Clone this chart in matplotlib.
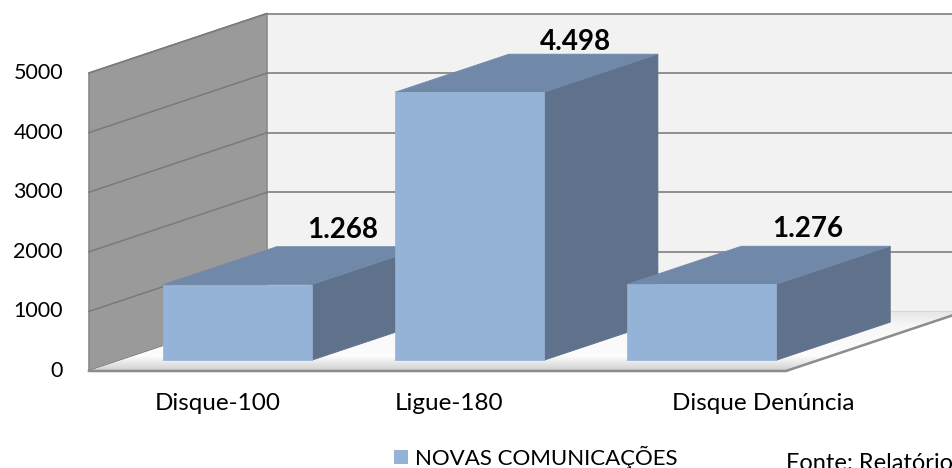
import numpy as np
import matplotlib
matplotlib.use("Agg")
import matplotlib.pyplot as plt
from matplotlib.patches import Polygon

plt.rcParams['font.family'] = ['Lato', 'DejaVu Sans']

# data
categories = ['Disque-100', 'Ligue-180', 'Disque Denúncia']
values = [1268, 4498, 1276]
value_labels = ['1.268', '4.498', '1.276']
yticks = [0, 1000, 2000, 3000, 4000, 5000]
legend_label = 'NOVAS COMUNICAÇÕES'
source_text = 'Fonte: Relatório'

# colours
c_front = '#95B3D7'
c_top = '#7189A9'
c_side = '#5F718B'
c_sidewall = '#9A9A9A'
c_backwall = '#F2F2F2'
c_grid = '#888888'

# layout (pixel based, figure 953x468)
W, H = 953, 468
x0_px, slot_px = 89, 232.33      # left front corner, width of a category slot
y0_px, vpx = 371, 298 / 5000     # zero line (from top), px per unit
DX = 178 / slot_px               # full depth shift in category units
DY = 59.5 / vpx                  # full depth shift in value units
bar_w = 149 / slot_px
d0, d1 = 0.18, 0.82              # bar depth range
vmax = 5000


def P(x, v, d):
    return (x + d * DX, v + d * DY)


def px(xp, yp):
    # pixel position (from top-left) -> data coords
    return ((xp - x0_px) / slot_px, -(yp - y0_px) / vpx)


fig = plt.figure(figsize=(W / 100, H / 100), dpi=100)
ax = fig.add_axes([0, 0, 1, 1])
ax.axis('off')

n = len(categories)

# back wall
back = Polygon([P(0, 0, 1), P(n, 0, 1), P(n, vmax, 1), P(0, vmax, 1)],
               closed=True, fc=c_backwall, ec='none', zorder=1)
ax.add_patch(back)
# side wall
side = Polygon([P(0, 0, 0), P(0, 0, 1), P(0, vmax, 1), P(0, vmax, 0)],
               closed=True, fc=c_sidewall, ec='#8A8A8A', lw=1.2, zorder=2)
ax.add_patch(side)

# gridlines
for t in yticks:
    xs, ys = zip(P(0, t, 1), P(n, t, 1))
    ax.plot(xs, ys, color=c_grid, lw=1.3, zorder=1.5)
    xs, ys = zip(P(0, t, 0), P(0, t, 1))
    ax.plot(xs, ys, color='#7A7A7A', lw=1.1, zorder=2.5)

# floor: white with soft grey toward the front edge and the back wall
floor_pts = [P(0, 0, 0), P(n, 0, 0), P(n, 0, 1), P(0, 0, 1)]
floor = Polygon(floor_pts, closed=True, fc='white', ec='none', zorder=3)
ax.add_patch(floor)
dd = np.linspace(0, 1, 256)
shade = np.interp(dd, [0, 0.04, 0.25, 0.75, 1.0], [0.78, 0.84, 0.99, 0.97, 0.90])[:, None]
im = ax.imshow(np.dstack([shade, shade, shade]), extent=(0, n + DX, 0, DY),
               origin='lower', aspect='auto', zorder=3.1, interpolation='bilinear')
im.set_clip_path(floor)
fx, fy = zip(P(0, 0, 0), P(n, 0, 0), P(n, 0, 1))
ax.plot(fx, fy, color='#8C8C8C', lw=1.8, zorder=3.2)

ax.set_xlim(-x0_px / slot_px, (W - x0_px) / slot_px)
ax.set_ylim(-(H - y0_px) / vpx, y0_px / vpx)

# bars
for i, v in enumerate(values):
    xc = i + 0.5
    xl, xr = xc - bar_w / 2, xc + bar_w / 2
    front = [P(xl, 0, d0), P(xr, 0, d0), P(xr, v, d0), P(xl, v, d0)]
    right = [P(xr, 0, d0), P(xr, 0, d1), P(xr, v, d1), P(xr, v, d0)]
    top = [P(xl, v, d0), P(xr, v, d0), P(xr, v, d1), P(xl, v, d1)]
    ax.add_patch(Polygon(right, closed=True, fc=c_side, ec=c_side, lw=0.5, zorder=4 + i))
    ax.add_patch(Polygon(top, closed=True, fc=c_top, ec=c_top, lw=0.5, zorder=4 + i))
    ax.add_patch(Polygon(front, closed=True, fc=c_front, ec=c_front, lw=0.5, zorder=4 + i))
    # label above the back edge of the top face, kept inside the wall height
    lx, ly = P(xc - 8 / slot_px, v, d1)
    ly = min(ly + 17 / vpx, vmax + DY - 29 / vpx)
    ax.text(lx, ly, value_labels[i], ha='center', va='center',
            fontsize=20, fontweight='bold', color='black', zorder=10)

# y tick labels
for t in yticks:
    ax.text(-26 / slot_px, t, str(t), ha='right', va='center', fontsize=15.5,
            color='black', zorder=10)

# category labels
cat_x = [0.555, 1.55, 2.90]
for cx, lab in zip(cat_x, categories):
    ax.text(cx, -32 / vpx, lab, ha='center', va='center', fontsize=17.5,
            color='black', zorder=10)

# legend
(sx0, sy0), (sx1, sy1) = px(394, 450), px(408, 464)
ax.add_patch(Polygon([(sx0, sy0), (sx1, sy0), (sx1, sy1), (sx0, sy1)],
                     closed=True, fc=c_front, ec='none', zorder=10))
tx, ty = px(415, 457)
ax.text(tx, ty, legend_label, ha='left', va='center', fontsize=16,
        color='black', zorder=10)

# source note (cut off at the edge, as in the original)
tx, ty = px(786, 453)
ax.text(tx, ty, source_text, ha='left', va='top', fontsize=17,
        color='black', zorder=10)

fig.savefig('out.png', dpi=100, facecolor='white')
